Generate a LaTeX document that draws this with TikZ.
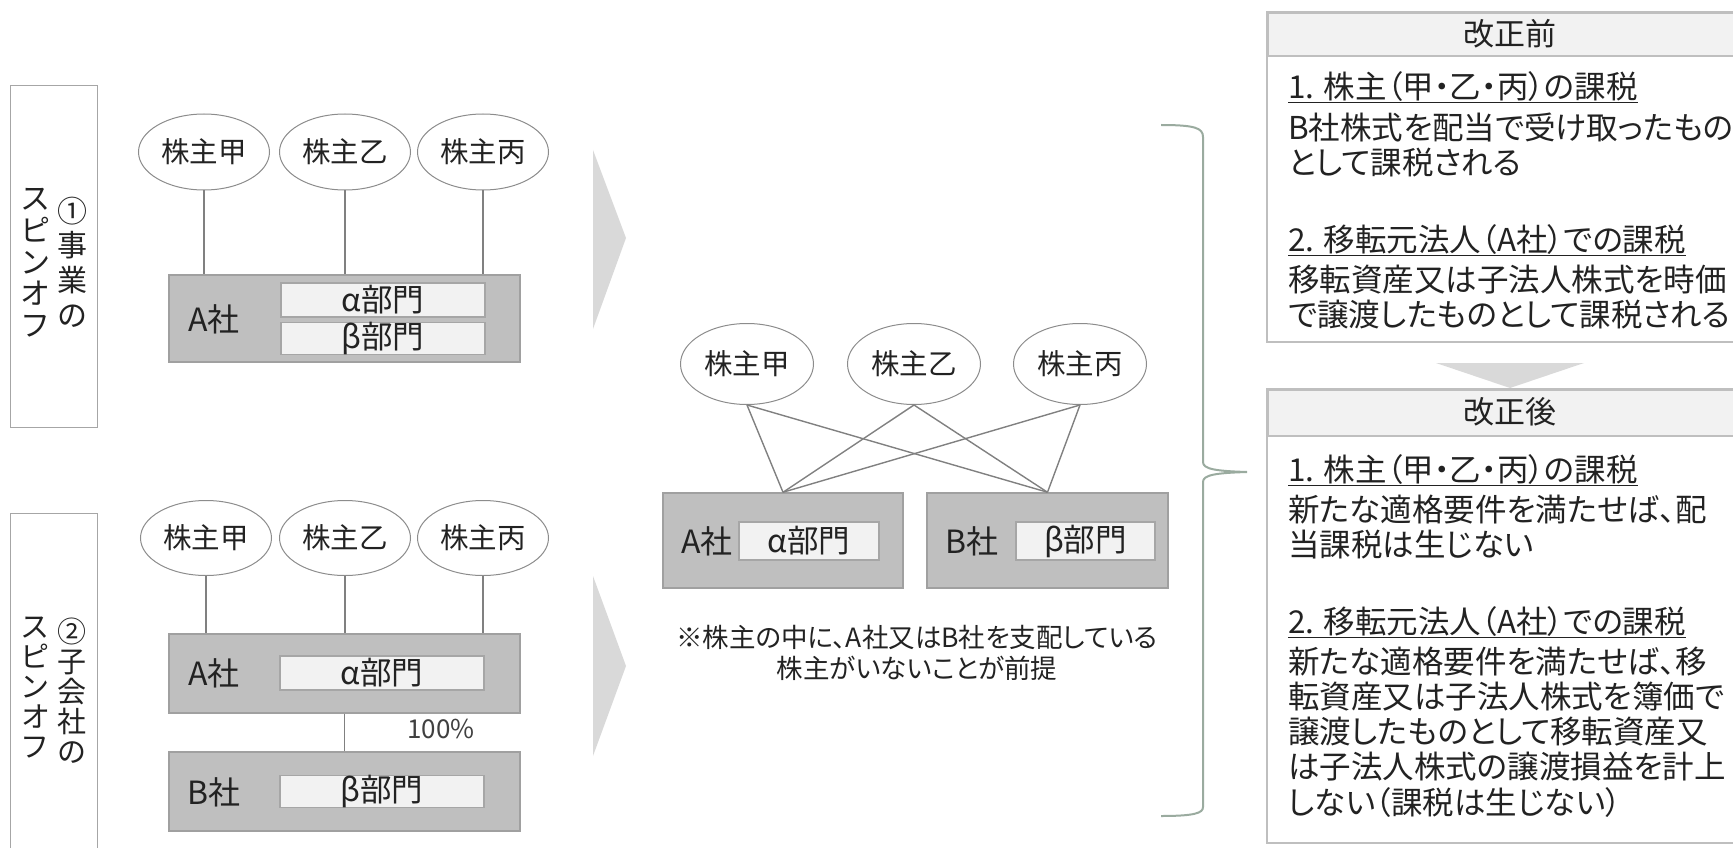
\documentclass[tikz,border=0pt]{standalone}
\usepackage{fontspec}
\setmainfont{Noto Sans CJK JP}[RawFeature=+palt]
\usetikzlibrary{shapes.geometric}
\definecolor{txt}{HTML}{222222}
\definecolor{gfill}{HTML}{BFBFBF}
\definecolor{gedge}{HTML}{A0A0A0}
\definecolor{ifill}{HTML}{F2F2F2}
\definecolor{iedge}{HTML}{A6A6A6}
\definecolor{lgray}{HTML}{808080}
\definecolor{ellgray}{HTML}{8C8C8C}
\definecolor{ledge}{HTML}{A6A6A6}
\definecolor{chev}{HTML}{D9D9D9}
\definecolor{bracecol}{HTML}{9AAB9F}
\definecolor{redge}{HTML}{BFBFBF}
\definecolor{pctgray}{HTML}{404040}
\begin{document}
\begin{tikzpicture}[x=1pt,y=-1pt,
  every node/.style={inner sep=0pt, text=txt},
  ell/.style={ellipse, draw=ellgray, line width=1pt, fill=white, minimum width=131, minimum height=76, font=\fontsize{28.5}{28.5}\selectfont},
  mell/.style={ell, minimum width=133, minimum height=81},
  gbox/.style={draw=gedge, fill=gfill, line width=1.5pt},
  ibox/.style={draw=iedge, fill=ifill, line width=1.2pt, font=\fontsize{31.5}{31.5}\selectfont},
  btxt/.style={font=\fontsize{32}{32}\selectfont},
  conn/.style={draw=lgray, line width=1.6pt},
  lbox/.style={draw=ledge, fill=white, line width=1pt},
  vtxt/.style={align=center, font=\fontsize{30}{#1}\selectfont},
  vtxtb/.style={align=center, font=\fontsize{29}{#1}\selectfont},
  rtext/.style={anchor=west, font=\fontsize{31.5}{31.5}\selectfont, text height=27.7pt, text depth=3.8pt},
  hdr/.style={font=\fontsize{31}{31}\selectfont},
  ulin/.style={draw=txt, line width=1.4pt},
  rbox/.style={draw=redge, line width=2pt},
  rhead/.style={draw=redge, fill=ifill, line width=2pt}
]
\useasboundingbox (0,0) rectangle (1733,848);

% ---------- left label boxes ----------
\node[lbox, minimum width=87, minimum height=341] (L1) at (53.5,256.5) {};
\node[vtxt=34.6] (L1a) at (72,262) {①\\事\\業\\の};
\node[vtxt=31.7] (L1b) at (35,263) {ス\\ピ\\ン\\オ\\フ};

\node[lbox, minimum width=87, minimum height=380, anchor=north] (L2) at (53.5,513) {};
\node[vtxtb=30] (L2a) at (72,691) {②\\子\\会\\社\\の};
\node[vtxtb=30.2] (L2b) at (35,687.5) {ス\\ピ\\ン\\オ\\フ};

% ---------- row 1 ----------
\node[ell] (e1a) at (204,152) {株主甲};
\node[ell] (e1b) at (345,152) {株主乙};
\node[ell] (e1c) at (483,152) {株主丙};
\node[gbox, minimum width=351, minimum height=87] (A1) at (344.5,318.5) {};
\node[ibox, minimum width=204, minimum height=34] (al1) at (383,300) {α部門};
\node[ibox, minimum width=204, minimum height=31] (be1) at (383,338.5) {β部門};
\node[btxt] (A1t) at (214,319) {A社};
\draw[conn] (e1a.south) -- (e1a.south |- A1.north);
\draw[conn] (e1b.south) -- (e1b.south |- A1.north);
\draw[conn] (e1c.south) -- (e1c.south |- A1.north);

% ---------- row 2 ----------
\node[ell, minimum height=75] (e2a) at (206,538) {株主甲};
\node[ell, minimum height=75] (e2b) at (345,538) {株主乙};
\node[ell, minimum height=75] (e2c) at (483,538) {株主丙};
\node[gbox, minimum width=351, minimum height=79] (A2) at (344.5,673.5) {};
\node[ibox, minimum width=204, minimum height=34] (al2) at (382,673) {α部門};
\node[btxt] (A2t) at (214,673) {A社};
\node[gbox, minimum width=351, minimum height=79] (B2) at (344.5,791.5) {};
\node[ibox, minimum width=204, minimum height=31] (be2) at (382,791.5) {β部門};
\node[btxt] (B2t) at (214,792) {B社};
\node[font=\fontsize{26}{26}\selectfont, text=pctgray] (pct) at (441,729) {100\%};
\draw[conn] (e2a.south) -- (e2a.south |- A2.north);
\draw[conn] (e2b.south) -- (e2b.south |- A2.north);
\draw[conn] (e2c.south) -- (e2c.south |- A2.north);
\draw[conn] (A2.south) -- (B2.north);

% ---------- chevrons ----------
\fill[chev] (593,150) -- (626,238) -- (593,329) -- cycle;
\fill[chev] (593,576) -- (626,666) -- (593,756) -- cycle;

% ---------- middle ----------
\node[mell] (m1) at (747,364) {株主甲};
\node[mell] (m2) at (914,364) {株主乙};
\node[mell] (m3) at (1080,364) {株主丙};
\node[gbox, minimum width=240, minimum height=95] (MA) at (783,540.5) {};
\node[gbox, minimum width=241, minimum height=95] (MB) at (1047.5,540.5) {};
\node[ibox, minimum width=140, minimum height=38] (mal) at (809,541) {α部門};
\node[ibox, minimum width=139, minimum height=38] (mbe) at (1085.5,541) {β部門};
\node[btxt] (MAt) at (707,541) {A社};
\node[btxt] (MBt) at (972,541) {B社};
\foreach \s in {m1,m2,m3}{
  \draw[conn, line width=1.4pt] (\s.south) -- (MA.north);
  \draw[conn, line width=1.4pt] (\s.south) -- (MB.north);
}
\node[align=center, font=\fontsize{26.5}{31}\selectfont] (note) at (917,652.5)
  {※株主の中に、A社又はB社を支配している\\株主がいないことが前提};

% ---------- brace ----------
\draw[bracecol, line width=2pt]
  (1161,125) .. controls (1195,125) and (1203,128) .. (1203,137)
  -- (1203,462) .. controls (1203,469) and (1215,471) .. (1247,472)
  .. controls (1215,473) and (1203,475) .. (1203,482)
  -- (1203,807) .. controls (1203,813) and (1195,816) .. (1161,816);

% ---------- right boxes ----------
\draw[rbox] (1267,12) rectangle (1745,342);
\node[rhead, minimum width=478, minimum height=43, anchor=north west] (H1) at (1267,12) {};
\node[hdr] (H1t) at (1510,33.5) {改正前};

\fill[chev] (1436,363) -- (1584,363) -- (1510,388) -- cycle;

\draw[rbox] (1267,389) rectangle (1745,843);
\node[rhead, minimum width=478, minimum height=46, anchor=north west] (H2) at (1267,389) {};
\node[hdr] (H2t) at (1510,412) {改正後};

\node[rtext] (r11) at (1288,87) {1. 株主（甲・乙・丙）の課税};
\draw[ulin] ([yshift=-3.5pt]r11.base west) -- ([yshift=-3.5pt]r11.base east);
\node[rtext] (r12) at (1288,128) {B社株式を配当で受け取ったもの};
\node[rtext] (r13) at (1288,163) {として課税される};
\node[rtext] (r14) at (1288,240) {2. 移転元法人（A社）での課税};
\draw[ulin] ([yshift=-3.5pt]r14.base west) -- ([yshift=-3.5pt]r14.base east);
\node[rtext] (r15) at (1288,280) {移転資産又は子法人株式を時価};
\node[rtext] (r16) at (1288,315) {で譲渡したものとして課税される};

\node[rtext] (r21) at (1288,470) {1. 株主（甲・乙・丙）の課税};
\draw[ulin] ([yshift=-3.5pt]r21.base west) -- ([yshift=-3.5pt]r21.base east);
\node[rtext] (r22) at (1288,510) {新たな適格要件を満たせば、配};
\node[rtext] (r23) at (1288,545) {当課税は生じない};
\node[rtext] (r24) at (1288,622) {2. 移転元法人（A社）での課税};
\draw[ulin] ([yshift=-3.5pt]r24.base west) -- ([yshift=-3.5pt]r24.base east);
\node[rtext] (r25) at (1288,662) {新たな適格要件を満たせば、移};
\node[rtext] (r26) at (1288,697) {転資産又は子法人株式を簿価で};
\node[rtext] (r27) at (1288,732) {譲渡したものとして移転資産又};
\node[rtext] (r28) at (1288,767) {は子法人株式の譲渡損益を計上};
\node[rtext] (r29) at (1288,803) {しない（課税は生じない）};
\end{tikzpicture}
\end{document}
